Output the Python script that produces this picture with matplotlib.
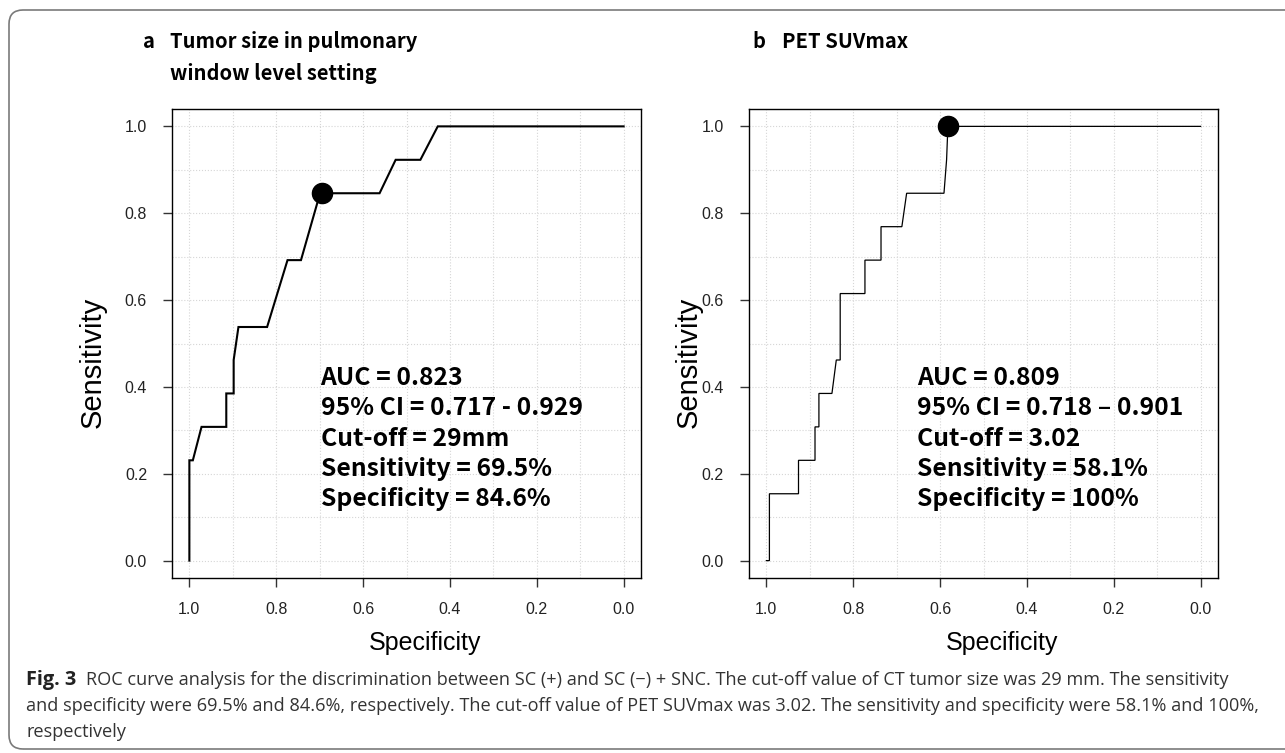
import numpy as np
import matplotlib
matplotlib.use("Agg")
import matplotlib.pyplot as plt
from matplotlib.patches import FancyBboxPatch

plt.rcParams['font.family'] = ['Liberation Sans', 'DejaVu Sans']

# ROC curve A: tumor size (pulmonary window)
spec_a = [1.0, 1.0, 0.992, 0.972, 0.915, 0.915, 0.898, 0.898, 0.887, 0.821,
          0.774, 0.743, 0.699, 0.562, 0.525, 0.468, 0.428, 0.0]
sens_a = [0.0, 0.231, 0.231, 0.308, 0.308, 0.385, 0.385, 0.462, 0.538, 0.538,
          0.692, 0.692, 0.846, 0.846, 0.923, 0.923, 1.0, 1.0]
cut_a = (0.695, 0.846)

# ROC curve B: PET SUVmax
spec_b = [1.0, 0.993, 0.993, 0.926, 0.926, 0.888, 0.888, 0.879, 0.879, 0.849,
          0.839, 0.830, 0.830, 0.773, 0.773, 0.736, 0.736, 0.688, 0.677, 0.591,
          0.585, 0.582, 0.0]
sens_b = [0.0, 0.0, 0.154, 0.154, 0.231, 0.231, 0.308, 0.308, 0.385, 0.385,
          0.462, 0.462, 0.615, 0.615, 0.692, 0.692, 0.769, 0.769, 0.846, 0.846,
          0.923, 1.0, 1.0]
cut_b = (0.581, 1.0)

ticks = [0.0, 0.2, 0.4, 0.6, 0.8, 1.0]
tick_labels = ['0.0', '0.2', '0.4', '0.6', '0.8', '1.0']

stats_a = ["AUC = 0.823", "95% CI = 0.717 - 0.929", "Cut-off = 29mm",
           "Sensitivity = 69.5%", "Specificity = 84.6%"]
stats_b = ["AUC = 0.809", "95% CI = 0.718 \u2013 0.901", "Cut-off = 3.02",
           "Sensitivity = 58.1%", "Specificity = 100%"]

caption = ["ROC curve analysis for the discrimination between SC (+) and SC (\u2212) + SNC. "
           "The cut-off value of CT tumor size was 29 mm. The sensitivity",
           "and specificity were 69.5% and 84.6%, respectively. The cut-off value of PET SUVmax "
           "was 3.02. The sensitivity and specificity were 58.1% and 100%,",
           "respectively"]

W, H = 1285, 753
fig = plt.figure(figsize=(W / 100, H / 100), dpi=100)

cjk = ['Noto Sans CJK JP', 'DejaVu Sans']


def roc_panel(left, spec, sens, cut, lw, stats, ylab_x):
    ax = fig.add_axes([left / W, 1 - 578 / H, 469 / W, 469 / H])
    ax.plot(spec, sens, color='black', lw=lw, solid_joinstyle='miter')
    ax.plot(*cut, 'o', color='black', ms=14.5)
    ax.set_xlim(1.04, -0.04)
    ax.set_ylim(-0.04, 1.04)
    ax.set_xticks(ticks)
    ax.set_xticklabels(tick_labels)
    ax.set_yticks(ticks)
    ax.set_yticklabels(tick_labels)
    ax.set_xticks(np.arange(0, 1.01, 0.1), minor=True)
    ax.set_yticks(np.arange(0, 1.01, 0.1), minor=True)
    ax.grid(which='both', color='#d6d6d6', ls=':', lw=0.8)
    ax.set_axisbelow(True)
    ax.tick_params(which='major', length=6.5, width=1, color='#333333',
                   labelsize=11.5, labelcolor='#222222')
    ax.tick_params(axis='x', pad=10.5)
    ax.tick_params(axis='y', pad=11.5)
    ax.tick_params(which='minor', length=0)
    for sp in ax.spines.values():
        sp.set_linewidth(1.0)
    ax.set_xlabel('Specificity', fontsize=18)
    ax.set_ylabel('Sensitivity', fontsize=21)
    ax.xaxis.set_label_coords(0.539, -0.113)
    ax.yaxis.set_label_coords(ylab_x, 0.46)
    ax.text(stats[0], stats[1], "\n".join(stats[2]), transform=ax.transData,
            family=cjk, weight='bold', fontsize=17.8, va='top', ha='left',
            linespacing=1.33)
    return ax


ax1 = roc_panel(172, spec_a, sens_a, cut_a, 1.5,
                (0.698, 0.448, stats_a), -0.1386)
ax2 = roc_panel(749, spec_b, sens_b, cut_b, 0.9,
                (0.654, 0.448, stats_b), -0.098)

# panel titles
tsize = 14.5
fig.text(143 / W, 1 - 42 / H, 'a', family=cjk, weight='bold', fontsize=tsize, va='center')
fig.text(170 / W, 1 - 42 / H, 'Tumor size in pulmonary', family=cjk, weight='bold',
         fontsize=tsize, va='center')
fig.text(170 / W, 1 - 74 / H, 'window level setting', family=cjk, weight='bold',
         fontsize=tsize, va='center')
fig.text(752 / W, 1 - 42 / H, 'b', family=cjk, weight='bold', fontsize=tsize, va='center')
fig.text(782 / W, 1 - 42 / H, 'PET SUVmax', family=cjk, weight='bold', fontsize=tsize,
         va='center')

# caption, sized so the second line fills the frame width
cap_font = ['Liberation Sans Narrow', 'Open Sans', 'DejaVu Sans']
renderer = fig.canvas.get_renderer()
probe = fig.text(0, 0, caption[1], family=cap_font, fontsize=15)
cap_size = 15 * (1257 - 26) / probe.get_window_extent(renderer).width
probe.remove()

fig.text(26 / W, 1 - 685 / H, 'Fig. 3', family=cap_font, weight='bold',
         fontsize=cap_size * 1.1, color='#222222', va='baseline')
fig.text(86 / W, 1 - 685 / H, caption[0], family=cap_font, fontsize=cap_size,
         color='#333333', va='baseline')
fig.text(26 / W, 1 - 711 / H, caption[1], family=cap_font, fontsize=cap_size,
         color='#333333', va='baseline')
fig.text(26 / W, 1 - 737 / H, caption[2], family=cap_font, fontsize=cap_size,
         color='#333333', va='baseline')

frame = FancyBboxPatch((0.09, 0.04), 13.5, 7.39,
                       boxstyle='round,pad=0,rounding_size=0.14',
                       transform=fig.dpi_scale_trans, fill=False,
                       ec='#7a7a7a', lw=1.2)
fig.add_artist(frame)

fig.savefig('out.png', dpi=100)
